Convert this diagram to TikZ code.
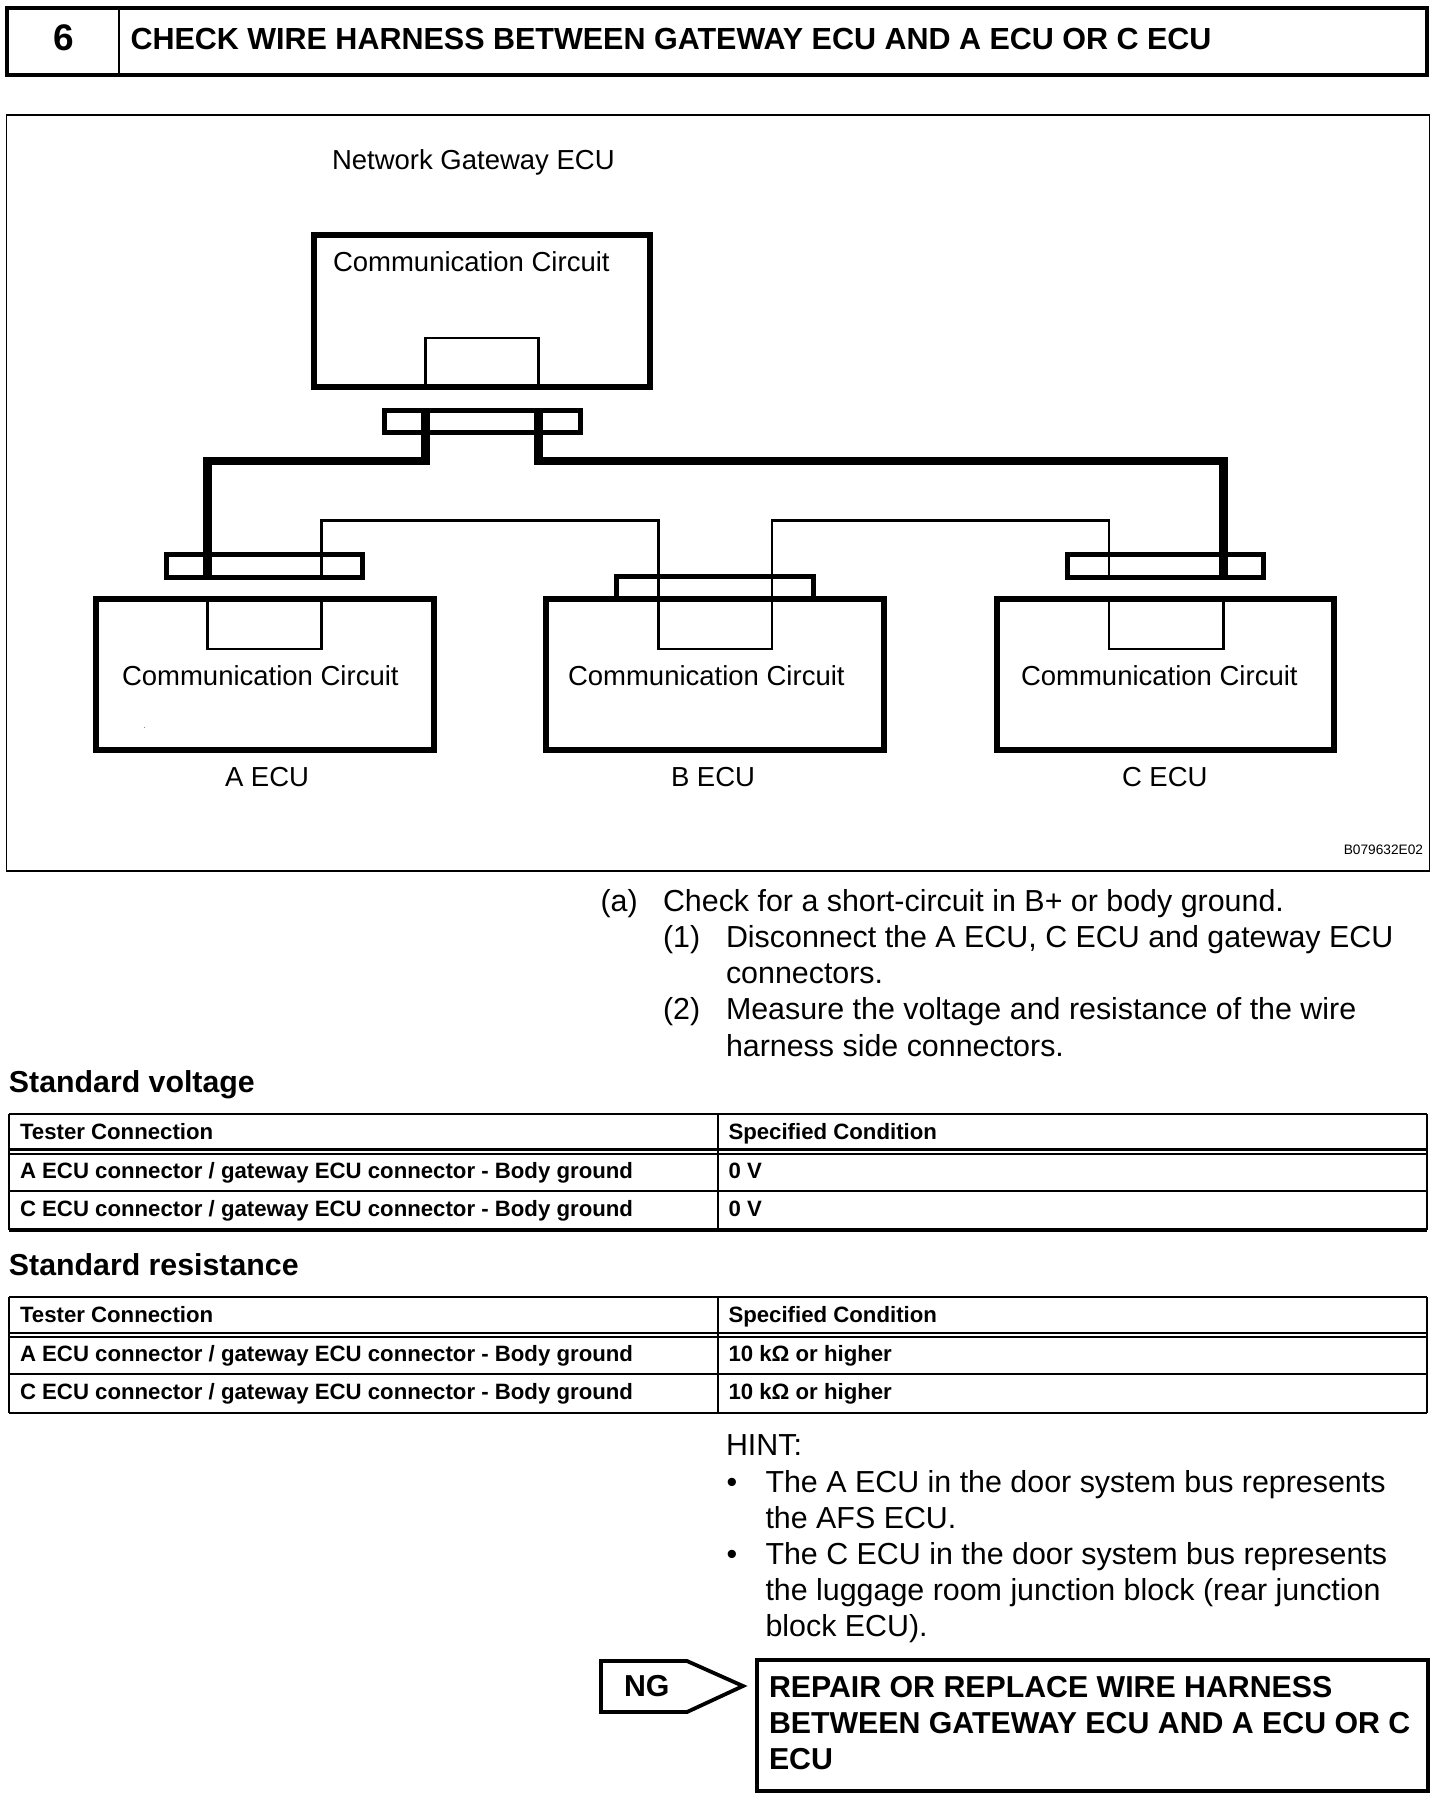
\documentclass[tikz,border=0pt]{standalone}
\usepackage{fontspec}
\setmainfont{Liberation Sans}
\tikzset{
  body/.style={anchor=base west,inner sep=0pt,outer sep=0pt,font=\fontsize{30.4pt}{36pt}\selectfont},
  label/.style={anchor=base west,inner sep=0pt,outer sep=0pt,font=\fontsize{27.5pt}{36pt}\selectfont},
  titletext/.style={anchor=base west,inner sep=0pt,outer sep=0pt,font=\fontsize{30.5pt}{36pt}\selectfont\bfseries},
  headtext/.style={anchor=base west,inner sep=0pt,outer sep=0pt,font=\fontsize{30.3pt}{36pt}\selectfont\bfseries},
  celltext/.style={anchor=base west,inner sep=0pt,outer sep=0pt,font=\fontsize{22.2pt}{26pt}\selectfont\bfseries},
  codetext/.style={anchor=base east,inner sep=0pt,outer sep=0pt,font=\fontsize{13.7pt}{16pt}\selectfont},
  ecubox/.style={draw,line width=6pt,rectangle,inner sep=0pt,outer sep=0pt},
  plug/.style={draw,line width=4.6pt,rectangle,inner sep=0pt,outer sep=0pt},
  framebox/.style={draw,line width=4.5pt,rectangle,inner sep=0pt,outer sep=0pt},
  thickwire/.style={line width=8.7pt,line join=miter,line cap=butt},
  thinwire/.style={line width=2.8pt,line join=miter,line cap=butt},
  rule/.style={line width=2.4pt,line cap=square},
  heavyrule/.style={line width=3.2pt,line cap=square},
}
\newcommand{\boxat}[6]{\node[#1,minimum width=#4pt,minimum height=#5pt] (#2) at (#3) {#6};}
\begin{document}
\begin{tikzpicture}[x=1pt,y=-1pt]
\useasboundingbox (0,0) rectangle (1456,1808);
\fill[white] (0,0) rectangle (1456,1808);

% title bar
\boxat{framebox}{titlebox}{717,41.5}{1420}{67}{}
\draw[line width=2.8pt] (titlebox.north west -| 119,0) -- (titlebox.south west -| 119,0);
\node[anchor=base,inner sep=0pt,font=\fontsize{37pt}{40pt}\selectfont\bfseries] (stepno) at (64,50) {6};
\node[titletext] (title) at (130.5,49) {CHECK WIRE HARNESS BETWEEN GATEWAY ECU AND A ECU OR C ECU};

% diagram frame
\node[draw,line width=1.8pt,rectangle,inner sep=0pt,outer sep=0pt,minimum width=1423pt,minimum height=756pt] (frame) at (718,493) {};
\node[label] (gwname) at (332,169) {Network Gateway ECU};
\node[codetext] (code) at (1423,854) {B079632E02};

% ECU boxes
\boxat{ecubox}{gw}{482,311}{336}{152}{}
\boxat{ecubox}{aecu}{265,674}{338}{151}{}
\boxat{ecubox}{becu}{715,674}{338}{151}{}
\boxat{ecubox}{cecu}{1165.5,674}{337}{151}{}

\node[label] (gwcc) at (333,271) {Communication Circuit};
\node[label] (acc) at (122,685) {Communication Circuit};
\node[label] (bcc) at (568,685) {Communication Circuit};
\node[label] (ccc) at (1021,685) {Communication Circuit};
\node[label] (aname) at (225,786) {A ECU};
\node[label] (bname) at (671,786) {B ECU};
\node[label] (cname) at (1122,786) {C ECU};
\fill[black!45] (144,727) rectangle (145,728);

% connectors (plugs)
\boxat{plug}{gwplug}{482.5,421.5}{196}{22}{}
\boxat{plug}{aplug}{264.5,566}{196}{23}{}
\boxat{plug}{cplug}{1165.5,566}{196}{23}{}
\draw[line width=4.6pt,line join=miter] (616.5,598.5) coordinate (bplugl) |- (813.5,576.5) coordinate (bplugr) -- (813.5,598.5);

% points on the wires
\coordinate (gwl) at (425.5,338);
\coordinate (gwr) at (538.5,338);
\coordinate (gwlb) at (425.5,387);
\coordinate (gwrb) at (538.5,387);
\coordinate (gwlt) at (425.5,408);
\coordinate (gwrt) at (538.5,408);
\coordinate (gwlo) at (425.5,461);
\coordinate (gwro) at (538.5,461);
\coordinate (al) at (207.5,598.5);
\coordinate (ar) at (321.5,598.5);
\coordinate (aw) at (321.5,577);
\coordinate (cl) at (1109,598.5);
\coordinate (cw) at (1109,577);
\coordinate (cr) at (1223.5,598.5);
\coordinate (bl) at (658.5,649);
\coordinate (br) at (772,649);

% inner terminal boxes
\draw[thinwire] (gwlb) -- (gwl) -- (gwr) -- (gwrb);
\draw[thinwire] (al) -- (207.5,649) -- (321.5,649) -- (ar);
\draw[thinwire] (cl) -- (1109,649) -- (1223.5,649) -- (cr);

% thick bus wires
\draw[thickwire] (gwlt) -- (gwlo) -- (207.5,461) -- (207.5,579);
\draw[thickwire] (gwrt) -- (gwro) -- (1223.5,461) -- (1223.5,579);

% thin bus wires
\draw[thinwire] (aw) -- (321.5,520.5) -- (658.5,520.5) -- (bl) -- (br) -- (772,520.5) -- (1109,520.5) -- (cw);

% instructions
\node[body] (s1) at (600.5,911.5) {(a)};
\node[body] (s1t) at (663,911.5) {Check for a short-circuit in B+ or body ground.};
\node[body] (s2) at (663,947.5) {(1)};
\node[body] (s2t) at (726,947.5) {Disconnect the A ECU, C ECU and gateway ECU};
\node[body] (s2u) at (726,983.5) {connectors.};
\node[body] (s3) at (663,1019.5) {(2)};
\node[body] (s3t) at (726,1019.5) {Measure the voltage and resistance of the wire};
\node[body] (s3u) at (726,1056) {harness side connectors.};

% table 1
\node[headtext] (h1) at (9,1092) {Standard voltage};
\draw[rule] (9,1114) -- (1427,1114);
\draw[rule] (9,1149.5) -- (1427,1149.5);
\draw[rule] (9,1154) -- (1427,1154);
\draw[rule] (9,1191) -- (1427,1191);
\draw[heavyrule] (9,1230) -- (1427,1230);
\draw[rule] (9,1114) -- (9,1230);
\draw[rule] (718,1114) -- (718,1230);
\draw[rule] (1427,1114) -- (1427,1230);
\node[celltext] (t1a) at (20,1139) {Tester Connection};
\node[celltext] (t1b) at (728.5,1139) {Specified Condition};
\node[celltext] (t1c) at (20,1178) {A ECU connector / gateway ECU connector - Body ground};
\node[celltext] (t1d) at (728.5,1178) {0 V};
\node[celltext] (t1e) at (20,1216.5) {C ECU connector / gateway ECU connector - Body ground};
\node[celltext] (t1f) at (728.5,1216.5) {0 V};

% table 2
\node[headtext] (h2) at (9,1275) {Standard resistance};
\draw[rule] (9,1297) -- (1427,1297);
\draw[rule] (9,1333) -- (1427,1333);
\draw[rule] (9,1337) -- (1427,1337);
\draw[rule] (9,1374) -- (1427,1374);
\draw[rule] (9,1413) -- (1427,1413);
\draw[rule] (9,1297) -- (9,1413);
\draw[rule] (718,1297) -- (718,1413);
\draw[rule] (1427,1297) -- (1427,1413);
\node[celltext] (t2a) at (20,1322) {Tester Connection};
\node[celltext] (t2b) at (728.5,1322) {Specified Condition};
\node[celltext] (t2c) at (20,1361) {A ECU connector / gateway ECU connector - Body ground};
\node[celltext] (t2d) at (728.5,1361) {10 k\symbol{"03A9} or higher};
\node[celltext] (t2e) at (20,1399.5) {C ECU connector / gateway ECU connector - Body ground};
\node[celltext] (t2f) at (728.5,1399.5) {10 k\symbol{"03A9} or higher};

% hint
\node[body] (hint) at (726,1455.5) {HINT:};
\node[body] (b1) at (726.5,1492) {•};
\node[body] (b1t) at (765.5,1492) {The A ECU in the door system bus represents};
\node[body] (b1u) at (765.5,1528) {the AFS ECU.};
\node[body] (b2) at (726.5,1564) {•};
\node[body] (b2t) at (765.5,1564) {The C ECU in the door system bus represents};
\node[body] (b2u) at (765.5,1600) {the luggage room junction block (rear junction};
\node[body] (b2v) at (765.5,1636) {block ECU).};

% NG
\draw[line width=3.8pt,line join=miter] (601,1661) -- (687,1661) -- (743,1686) -- (687,1712) -- (601,1712) -- cycle;
\node[headtext] (ng) at (624,1696) {NG};
\boxat{framebox}{repair}{1092.5,1725.5}{671}{131}{}
\node[headtext] (r1) at (769,1697) {REPAIR OR REPLACE WIRE HARNESS};
\node[headtext] (r2) at (769,1733) {BETWEEN GATEWAY ECU AND A ECU OR C};
\node[headtext] (r3) at (769,1769) {ECU};
\end{tikzpicture}
\end{document}
